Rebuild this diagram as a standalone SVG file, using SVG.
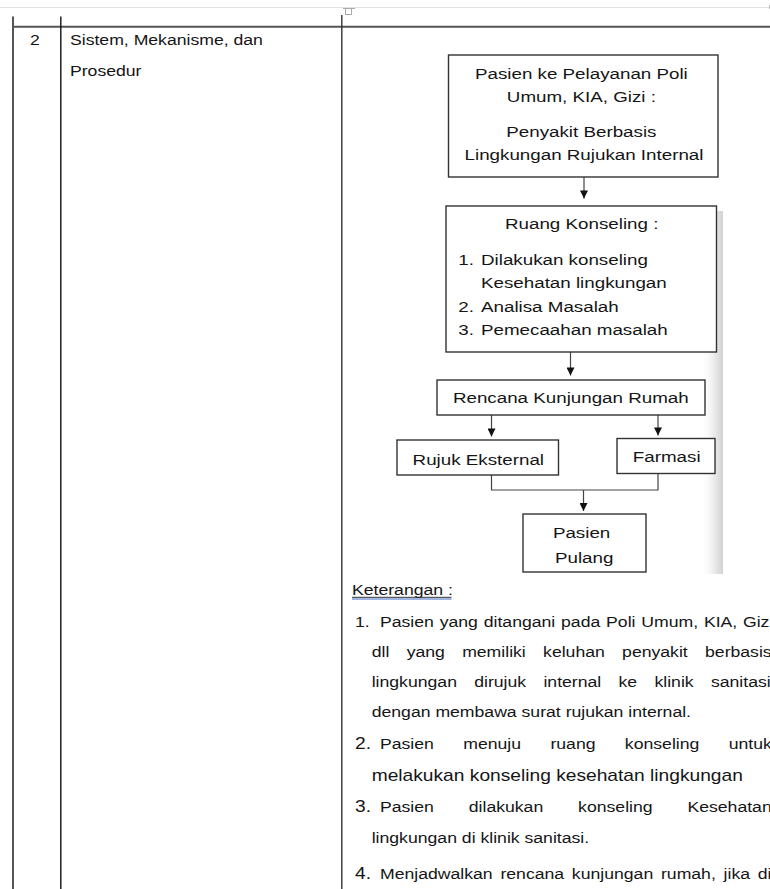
<svg xmlns="http://www.w3.org/2000/svg" width="770" height="889" viewBox="0 0 770 889">
<style>
.t{font-family:"Liberation Sans",Arial,sans-serif;fill:#151515}
.b{font-size:14.7px}
.f{font-size:15.4px}
.box{fill:#fff;stroke:#333;stroke-width:1.4}
.conn{stroke:#444;stroke-width:1.2;fill:none}
.tbl{stroke:#555;fill:none}
</style>
<defs>
<marker id="ah" viewBox="0 0 10 10" refX="10" refY="5" markerUnits="userSpaceOnUse" markerWidth="8.5" markerHeight="8" orient="auto">
<path d="M0,0 L10,5 L0,10 z" fill="#111"/>
</marker>
<linearGradient id="sh" x1="0" y1="0" x2="1" y2="0">
<stop offset="0" stop-color="#fff" stop-opacity="0"/>
<stop offset="0.7" stop-color="#e6e6e6"/>
<stop offset="1" stop-color="#d2d2d2"/>
</linearGradient>
</defs>
<rect width="770" height="889" fill="#fff"/>

<g id="table">
<line x1="0" y1="7.5" x2="770" y2="7.5" stroke="#e2e2e2" stroke-width="1"/>
<line x1="769.5" y1="5" x2="769.5" y2="9" stroke="#bbb" stroke-width="1"/>
<rect x="345.5" y="8.5" width="6" height="6" fill="#fff" stroke="#aaa" stroke-width="1"/>
<line x1="343" y1="8.5" x2="355" y2="8.5" stroke="#aaa" stroke-width="1"/>
<line class="tbl" x1="12" y1="26.7" x2="770" y2="26.7" stroke-width="2"/>
<line class="tbl" x1="13" y1="16.5" x2="13" y2="889" stroke-width="2"/>
<line x1="60.8" y1="16.5" x2="60.8" y2="889" stroke="#111" stroke-width="1.4"/>
<line x1="341.8" y1="15" x2="341.8" y2="889" stroke="#333" stroke-width="1.4"/>
</g>

<g id="leftcol">
<text class="t b" transform="scale(1.2 1)" x="29.17" y="45.5" text-anchor="middle">2</text>
<text class="t b" transform="scale(1.2 1)" x="58.33" y="45.5">Sistem, Mekanisme, dan</text>
<text class="t b" transform="scale(1.2 1)" x="58.33" y="76">Prosedur</text>
</g>

<rect x="700" y="211" width="23" height="363" fill="url(#sh)"/>

<g id="connectors">
<line class="conn" x1="584" y1="177" x2="584" y2="198.5" marker-end="url(#ah)"/>
<line class="conn" x1="570.5" y1="352" x2="570.5" y2="375.5" marker-end="url(#ah)"/>
<line class="conn" x1="491.5" y1="415" x2="491.5" y2="436.5" marker-end="url(#ah)"/>
<line class="conn" x1="658" y1="415" x2="658" y2="435.5" marker-end="url(#ah)"/>
<path class="conn" d="M491.5,475 V490 H658 V473.5"/>
<line class="conn" x1="583.5" y1="490" x2="583.5" y2="511" marker-end="url(#ah)"/>
</g>

<g id="n1">
<rect class="box" x="448.5" y="55" width="269.5" height="122"/>
<text class="t f" transform="scale(1.22 1)" text-anchor="middle">
<tspan x="478.69" y="79.5">Pasien ke Pelayanan Poli</tspan>
<tspan x="478.69" y="102.5">Umum, KIA, Gizi :</tspan>
<tspan x="478.69" y="137.5">Penyakit Berbasis</tspan>
<tspan x="478.69" y="160">Lingkungan Rujukan Internal</tspan>
</text>
</g>

<g id="n2">
<rect class="box" x="446" y="206" width="270.5" height="146"/>
<text class="t f" transform="scale(1.22 1)" x="476.8" y="229.5" text-anchor="middle">Ruang Konseling :</text>
<text class="t f" transform="scale(1.22 1)">
<tspan x="375.66" y="265">1.</tspan><tspan x="394.26" y="265">Dilakukan konseling</tspan>
<tspan x="394.26" y="288.5">Kesehatan lingkungan</tspan>
<tspan x="375.66" y="312">2.</tspan><tspan x="394.26" y="312">Analisa Masalah</tspan>
<tspan x="375.66" y="335">3.</tspan><tspan x="394.26" y="335">Pemecaahan masalah</tspan>
</text>
</g>

<g id="n3">
<rect class="box" x="437" y="380" width="268" height="35"/>
<text class="t f" transform="scale(1.22 1)" x="467.87" y="403" text-anchor="middle">Rencana Kunjungan Rumah</text>
</g>

<g id="n4">
<rect class="box" x="397" y="440" width="161.5" height="35"/>
<text class="t f" transform="scale(1.22 1)" x="392.05" y="465" text-anchor="middle">Rujuk Eksternal</text>
</g>

<g id="n5">
<rect class="box" x="617" y="438.5" width="98" height="35"/>
<text class="t f" transform="scale(1.22 1)" x="546.48" y="461.7" text-anchor="middle">Farmasi</text>
</g>

<g id="n6">
<rect class="box" x="523" y="514" width="123" height="58"/>
<text class="t f" transform="scale(1.22 1)" text-anchor="middle">
<tspan x="478.85" y="538">Pasien</tspan>
<tspan x="478.85" y="563">Pulang</tspan>
</text>
</g>

<g id="keterangan">
<text class="t b" transform="scale(1.2 1)" x="293.33" y="595">Keterangan :</text>
<line x1="352" y1="597.3" x2="451.5" y2="597.3" stroke="#333" stroke-width="1"/>
<line x1="352" y1="599" x2="451.5" y2="599" stroke="#7f9ed8" stroke-width="1.4"/>

<text class="t b" transform="scale(1.2 1)">
<tspan x="295.83" y="627.5">1.</tspan><tspan x="316.67" y="627.5" word-spacing="0.77">Pasien yang ditangani pada Poli Umum, KIA, Gizi</tspan>
<tspan x="309.75" y="657.5" word-spacing="10.34">dll yang memiliki keluhan penyakit berbasis</tspan>
<tspan x="309.75" y="687.5" word-spacing="10.34">lingkungan dirujuk internal ke klinik sanitasi</tspan>
<tspan x="309.75" y="717.5">dengan membawa surat rujukan internal.</tspan>
</text>

<text class="t b" transform="scale(1.2 1)">
<tspan x="295.83" y="749.5" font-size="16">2.</tspan><tspan x="316.67" y="749.5" word-spacing="20.4">Pasien menuju ruang konseling untuk</tspan>
</text>
<text class="t" transform="scale(1.2 1)" x="309.75" y="781" font-size="16">melakukan konseling kesehatan lingkungan</text>

<text class="t b" transform="scale(1.2 1)">
<tspan x="295.83" y="812.5" font-size="16">3.</tspan><tspan x="316.67" y="812.5" word-spacing="25">Pasien dilakukan konseling Kesehatan</tspan>
<tspan x="309.75" y="843.5">lingkungan di klinik sanitasi.</tspan>
</text>

<text class="t b" transform="scale(1.2 1)">
<tspan x="295.83" y="879.5" font-size="16">4.</tspan><tspan x="316.67" y="879.5" word-spacing="2.4">Menjadwalkan rencana kunjungan rumah, jika di</tspan>
</text>
</g>
</svg>
